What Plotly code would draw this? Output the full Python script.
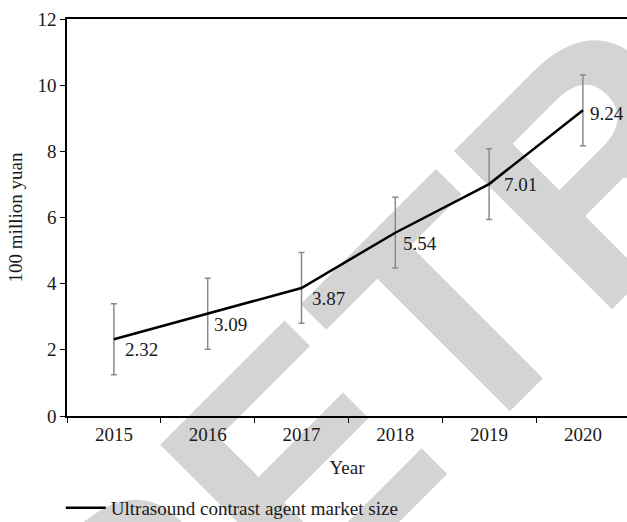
import plotly.graph_objects as go

years = ["2015", "2016", "2017", "2018", "2019", "2020"]
market_size = [2.32, 3.09, 3.87, 5.54, 7.01, 9.24]
error_size = [1.07, 1.07, 1.07, 1.07, 1.07, 1.07]
series_name = "Ultrasound contrast agent market size"
y_ticks = [0, 2, 4, 6, 8, 10, 12]

# label offsets (px) relative to each point: style only
label_dx = [9, 4, 8, 6, 13, 5]
label_dy = [10, 11, 11, 11, 0, 3]

SERIF = "Liberation Serif, Times New Roman, serif"
FS = 19
TXT = "#1a1a1a"

fig = go.Figure()

fig.add_trace(go.Scatter(
    x=years, y=market_size, mode="lines", name=series_name,
    line=dict(color="black", width=2.5),
    error_y=dict(type="data", array=error_size, visible=True,
                 color="#8a8a8a", thickness=1.5, width=3),
))

for i, (v, dx, dy) in enumerate(zip(market_size, label_dx, label_dy)):
    fig.add_annotation(x=i, y=v, xref="x", yref="y", text=f"{v:.2f}", showarrow=False,
                       xanchor="left", yanchor="middle",
                       xshift=dx, yshift=-dy,
                       font=dict(family=SERIF, size=FS, color=TXT))

# "RETRACTED" watermark, drawn below the data
cx, cy = 1.209, 1.113
fig.add_shape(type="rect", xref="paper", yref="paper",
              x0=cx - 0.01, x1=cx + 0.01, y0=cy - 0.01, y1=cy + 0.01,
              line=dict(width=0), fillcolor="rgba(0,0,0,0)", layer="below",
              label=dict(text="RETRACTED", textangle=-45, textposition="middle center",
                         font=dict(family="Liberation Sans Narrow, Arial Narrow, sans-serif",
                                   size=325, color="#d4d4d4", weight="bold")))

fig.update_layout(
    width=627, height=522,
    margin=dict(l=67, r=0, t=19, b=106),
    paper_bgcolor="white", plot_bgcolor="rgba(0,0,0,0)",
    font=dict(family=SERIF, size=FS, color=TXT),
    showlegend=True,
    legend=dict(orientation="h", xref="container", yref="container",
                x=0.097, y=0.027, xanchor="left", yanchor="middle", itemwidth=40,
                font=dict(family=SERIF, size=FS, color=TXT),
                bgcolor="rgba(0,0,0,0)"),
    xaxis=dict(type="category", range=[-0.5, 5.47], showline=True, linecolor="black",
               linewidth=1.5, mirror=True, ticks="outside", ticklen=5, tickwidth=1.2,
               tickcolor="black", tickson="boundaries", showgrid=False,
               title=dict(text="Year", standoff=17, font=dict(size=FS)),
               tickfont=dict(size=FS)),
    yaxis=dict(range=[0, 12], tickvals=y_ticks, showline=True, linecolor="black",
               linewidth=1.5, ticks="outside", ticklen=5, tickwidth=1.2, tickcolor="black",
               showgrid=False, zeroline=False,
               title=dict(text="100 million yuan", standoff=10, font=dict(size=FS)),
               tickfont=dict(size=FS)),
)

fig.write_html("out.html")
